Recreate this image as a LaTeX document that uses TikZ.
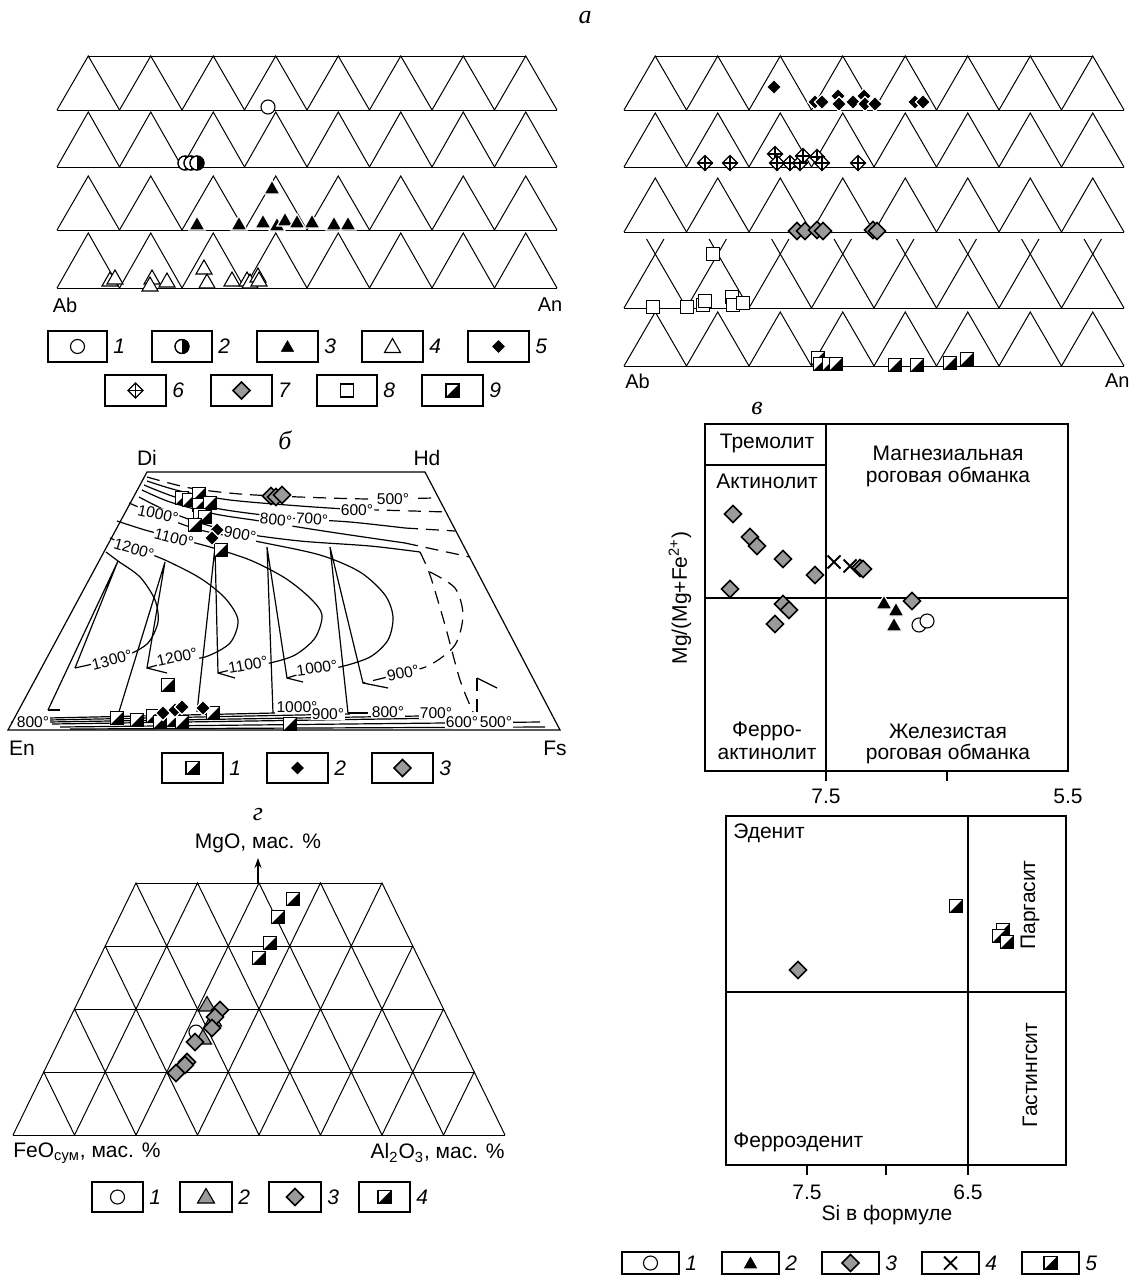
\documentclass[tikz,border=0pt]{standalone}
\usepackage{fontspec}
\setmainfont{Liberation Sans}
\newfontfamily\serfont{Liberation Serif}
\usetikzlibrary{arrows.meta}
\definecolor{sgrey}{HTML}{9A9A9A}
\tikzset{
  tl/.style={line width=0.5pt},
  fr/.style={line width=0.6pt},
  iso/.style={line width=0.6pt},
  isod/.style={line width=0.6pt, dash pattern=on 6.5pt off 4pt},
  sy/.style={line width=0.55pt},
  lbl/.style={font=\fontsize{10.5}{12.5}\selectfont, inner sep=0pt},
  slbl/.style={font=\fontsize{10}{12}\selectfont, inner sep=0pt},
  tlbl/.style={font=\fontsize{7.8}{9}\selectfont, inner sep=0.4pt, fill=white},
  plbl/.style={font=\fontsize{13}{15}\selectfont\serfont\itshape, inner sep=0pt},
  nlbl/.style={font=\fontsize{10.5}{12}\selectfont\itshape, inner sep=0pt, anchor=west},
  pics/ocirc/.style={code={\draw[sy,fill=white] (0,0) circle[radius=7];}},
  pics/hcirc/.style={code={\draw[sy,fill=white] (0,0) circle[radius=7];
     \begin{scope}\clip (0,-8) rectangle (8,8); \fill (0,0) circle[radius=7];\end{scope}
     \draw[sy] (0,0) circle[radius=7];}},
  pics/ftri/.style={code={\draw[white,line width=0.6pt,fill=black] (0,-8)--(8,6)--(-8,6)--cycle;}},
  pics/otri/.style={code={\draw[sy,fill=white] (0,-8)--(8,6)--(-8,6)--cycle;}},
  pics/gtri/.style={code={\draw[sy,fill=sgrey] (0,-8.5)--(8.5,6)--(-8.5,6)--cycle;}},
  pics/fdia/.style={code={\draw[white,line width=0.6pt,fill=black] (0,-7.5)--(7.5,0)--(0,7.5)--(-7.5,0)--cycle;}},
  pics/xdia/.style={code={\draw[sy,fill=white] (0,-7.5)--(7.5,0)--(0,7.5)--(-7.5,0)--cycle; \draw[sy] (0,-7.5)--(0,7.5) (-7.5,0)--(7.5,0);}},
  pics/gdia/.style={code={\draw[line width=0.8pt,fill=sgrey] (0,-8.5)--(8.5,0)--(0,8.5)--(-8.5,0)--cycle;}},
  pics/osq/.style={code={\draw[sy,fill=white] (-6.5,-6.5) rectangle (6.5,6.5);}},
  pics/hsq/.style={code={\draw[sy,fill=white] (-6.5,-6.5) rectangle (6.5,6.5); \fill (6.5,-6.5)--(6.5,6.5)--(-6.5,6.5)--cycle; \draw[sy] (-6.5,-6.5) rectangle (6.5,6.5);}},
  pics/xmk/.style={code={\draw[line width=0.9pt] (-6.5,-6.5)--(6.5,6.5) (-6.5,6.5)--(6.5,-6.5);}},
}
\newcommand\Pts[2]{\foreach \xx/\yy in {#2}{\pic at (\xx,\yy) {#1};}}
\newcommand\TriRow[3]{%
  \draw[tl] (#1,#2) -- ({#1+500},#2);
  \foreach \i in {0,...,7}{\draw[tl] ({#1+62.5*\i},#2) -- ({#1+62.5*\i+31.25},#3) -- ({#1+62.5*\i+62.5},#2);}}
\newcommand\LegB[6]{%
  \draw[fr] (#1,#2) rectangle ({#1+#3},{#2+#4});
  \pic at ({#1+#3/2},{#2+#4/2}) {#5};
  \node[nlbl] at ({#1+#3+6},{#2+#4/2}) {#6};}
\begin{document}
\begin{tikzpicture}[x=0.5pt,y=-0.5pt]
\useasboundingbox (0,0) rectangle (1132,1285);
\fill[white] (0,0) rectangle (1132,1285);

% ================= panel a =================
\node[plbl] (ta) at (585,18) {а};
% left
\draw[tl] (88,56) -- (525,56);
\TriRow{57}{110}{56}
\TriRow{57}{167}{112}
\TriRow{57}{230}{176}
\TriRow{57}{288}{233}
\node[slbl] (abl) at (65,305) {Ab};
\node[slbl] (anl) at (550,305) {An};
\Pts{ocirc}{268/107}
\Pts{hcirc}{185/163,191/163,197/163}
\Pts{ftri}{272/188,197/224,239/224,263/222,277/225,285/220,297/222,312/222,334/224,348/224}
\Pts{otri}{110/280,115/278,152/278,150/285,167/281,204/268,207/282,232/280,247/280,250/282,258/276,259/280}
% right
\draw[tl] (655,56) -- (1093,56);
\TriRow{624}{110}{56}
\TriRow{624}{167}{113}
\TriRow{624}{232}{178}
\draw[tl] (624,308) -- (1124,308);
\foreach \i in {0,...,7}{
  \draw[tl] ({624+62.5*\i},308) -- ({624+62.5*\i+39.95},239);
  \draw[tl] ({624+62.5*\i+62.5},308) -- ({624+62.5*\i+22.55},239);}
\TriRow{624}{366}{312}
\node[slbl,anchor=west] (abr) at (625,381) {Ab};
\node[slbl,anchor=east] (anr) at (1130,381) {An};
\Pts{fdia}{774/87,815/102,822/102,838/96,839/104,853/102,864/96,865/104,875/104,915/102,923/102}
\Pts{xdia}{705/163,730/163,775/154,777/163,790/163,800/163,803/156,817/157,822/163,858/163}
\Pts{gdia}{797/231,805/231,817/230,823/231,873/230,877/231}
\Pts{osq}{713/254,653/307,687/307,703/305,705/301,732/297,733/305,743/303}
\Pts{hsq}{818/358,820/364,829/364,836/364,895/365,917/365,950/363,967/359}
% legend a
\LegB{48}{331}{59}{31}{ocirc}{1}
\LegB{152}{331}{60}{31}{hcirc}{2}
\LegB{257}{331}{61}{31}{ftri}{3}
\LegB{362}{331}{61}{31}{otri}{4}
\LegB{468}{331}{61}{31}{fdia}{5}
\LegB{105}{375}{61}{31}{xdia}{6}
\LegB{211}{375}{61}{31}{gdia}{7}
\LegB{317}{375}{60}{31}{osq}{8}
\LegB{422}{375}{61}{31}{hsq}{9}

% ================= panel b =================
\node[plbl] (tb) at (285,440) {б};
\node[lbl] (di) at (147,458) {Di};
\node[lbl] (hd) at (427,458) {Hd};
\node[lbl] (en) at (22,748) {En};
\node[lbl] (fs) at (555,748) {Fs};
% upper isotherms
\draw[isod] plot[smooth] coordinates {(147,477) (190,488) (240,494) (300,497) (370,499) (433,498)};
\draw[iso] plot[smooth] coordinates {(147,481) (180,491) (230,500) (300,506) (345,509)};
\draw[isod] (345,509) -- (447,512);
\draw[iso] plot[smooth] coordinates {(144,485) (175,497) (220,509) (290,518) (350,522) (405,528)};
\draw[isod] (405,528) -- (455,531);
\draw[iso] plot[smooth] coordinates {(142,490) (170,502) (215,514) (260,521) (330,532) (405,543)};
\draw[isod] (405,543) -- (470,557);
\draw[iso] plot[smooth] coordinates {(139,497) (165,510) (200,523) (240,533) (300,541) (370,546) (420,552)};
\draw[isod] plot[smooth] coordinates {(420,552) (430,575) (445,625) (460,680) (473,712)};
% lenses
\draw[iso] plot[smooth] coordinates {(129,503) (158,515) (200,530) (260,542) (320,555) (360,572) (385,595) (393,617) (388,640) (370,657) (340,667) (315,670) (287,678)};
\draw[iso] plot[smooth] coordinates {(117,521) (145,530) (172,537) (210,547) (250,560) (285,578) (310,598) (322,615) (315,638) (295,655) (270,663) (248,666) (218,673)};
\draw[iso] plot[smooth] coordinates {(110,538) (134,548) (165,560) (200,578) (225,598) (238,620) (230,643) (205,657) (178,660) (147,668)};
\draw[iso] plot[smooth] coordinates {(106,552) (118,561) (140,577) (155,600) (158,622) (148,643) (128,655) (110,660) (75,668)};
\draw[isod] plot[smooth] coordinates {(430,572) (455,588) (463,615) (455,645) (430,665) (403,673) (363,683)};
\draw[isod] (477,678) -- (477,712);
% tie lines
\draw[iso] (48,710) -- (118,561) -- (75,668);
\draw[iso] (48,710) -- (60,710);
\draw[iso] (118,715) -- (165,562) -- (147,668) -- (167,673);
\draw[iso] (197,712) -- (215,547) -- (218,673) -- (235,678);
\draw[iso] (273,713) -- (267,547) -- (287,678) -- (303,682);
\draw[iso] (348,713) -- (330,547) -- (363,683) -- (388,688);
\draw[line width=1.2pt] (348,713) -- (368,713);
\draw[iso] (477,678) -- (497,688);
% bottom bundle
\draw[iso] (48,718) -- (275,713);
\draw[iso] (48,720) -- (350,714);
\draw[iso] (48,722) -- (420,716);
\draw[iso] (52,724) -- (450,718);
\draw[iso] (60,727) -- (540,722);
\draw[iso] (70,729) -- (545,727);
\fill (12,722) circle[radius=1];
% frame
\draw[fr] (147,472) -- (425,472) -- (560,730) -- (8,730) -- cycle;
% labels
\node[tlbl] at (393,499) {500°};
\node[tlbl] at (357,510) {600°};
\node[tlbl,rotate=-4] at (312,519) {700°};
\node[tlbl,rotate=-5] at (276,520) {800°};
\node[tlbl,rotate=-10] at (240,534) {900°};
\node[tlbl,rotate=-12] at (158,514) {1000°};
\node[tlbl,rotate=-14] at (174,538) {1100°};
\node[tlbl,rotate=-16] at (134,549) {1200°};
\node[tlbl,rotate=14] at (112,660) {1300°};
\node[tlbl,rotate=12] at (177,657) {1200°};
\node[tlbl,rotate=10] at (248,665) {1100°};
\node[tlbl,rotate=8] at (317,668) {1000°};
\node[tlbl,rotate=12] at (403,673) {900°};
\node[tlbl] at (33,722) {800°};
\node[tlbl] at (297,707) {1000°};
\node[tlbl] at (328,714) {900°};
\node[tlbl] at (388,712) {800°};
\node[tlbl] at (436,713) {700°};
\node[tlbl] at (462,722) {600°};
\node[tlbl] at (496,722) {500°};
% points
\Pts{hsq}{182/498,189/500,199/494,199/505,210/503,200/515,205/517,195/525,221/550,168/685,117/718,137/720,153/716,160/722,173/720,182/722,213/713,290/724}
\Pts{fdia}{217/530,212/538,163/713,175/710,182/707,203/708}
\Pts{gdia}{271/496,276/497,282/495}
% legend b
\LegB{162}{753}{61}{30}{hsq}{1}
\LegB{267}{753}{61}{30}{fdia}{2}
\LegB{372}{753}{61}{30}{gdia}{3}

% ================= panel g =================
\node[plbl] (tg) at (258,815) {г};
\node[lbl] (mgo) at (258,843) {MgO, мас. \%};
\draw[-{Stealth[length=5pt,width=3.5pt]},line width=0.6pt] (258,883) -- (258,858);
\foreach \k in {0,...,3}{
  \pgfmathsetmacro\yt{883+63*\k}
  \pgfmathsetmacro\yb{946+63*\k}
  \pgfmathsetmacro\lt{136-30.75*\k}
  \pgfmathsetmacro\nn{int(4+\k)}
  \draw[tl] (\lt,\yt) -- ({\lt+61.5*\nn},\yt);
  \foreach \j in {0,...,\nn}{
    \draw[tl] ({\lt-30.75+61.5*\j},\yb) -- ({\lt+61.5*\j},\yt) -- ({\lt+30.75+61.5*\j},\yb);}
}
\draw[tl] (13,1135) -- (505,1135);
\node[lbl,anchor=west] (feo) at (13,1153) {FeO\textsubscript{сум}, мас. \%};
\node[lbl,anchor=east] (alo) at (505,1153) {Al\textsubscript{2}O\textsubscript{3}, мас. \%};
\Pts{hsq}{293/899,278/917,270/943,259/958}
\Pts{gtri}{207/1005,213/1020}
\Pts{gdia}{220/1010,215/1017,212/1028}
\Pts{ocirc}{196/1032}
\Pts{gtri}{203/1038}
\Pts{gdia}{195/1042,187/1062,185/1065,176/1073}
% legend g
\LegB{92}{1182}{51}{30}{ocirc}{1}
\LegB{180}{1182}{52}{30}{gtri}{2}
\LegB{269}{1182}{52}{30}{gdia}{3}
\LegB{359}{1182}{51}{30}{hsq}{4}

% ================= panel v =================
\node[plbl] (tv) at (757,408) {в};
\draw[fr] (705,424) rectangle (1068,771);
\draw[fr] (826,424) -- (826,781);
\draw[fr] (947,771) -- (947,781);
\draw[fr] (705,598) -- (1068,598);
\draw[fr] (705,465) -- (826,465);
\node[lbl] at (767,443) {Тремолит};
\node[lbl] at (767,481) {Актинолит};
\node[lbl] at (948,453) {Магнезиальная};
\node[lbl] at (948,477) {роговая обманка};
\node[lbl] at (767,731) {Ферро-};
\node[lbl] at (767,754) {актинолит};
\node[lbl] at (948,731) {Железистая};
\node[lbl] at (948,754) {роговая обманка};
\node[lbl] at (826,796) {7.5};
\node[lbl] at (1068,796) {5.5};
\node[lbl,rotate=90] (ylab) at (680,598) {Mg/(Mg+Fe\textsuperscript{2+})};
\Pts{gdia}{733/514,750/537,757/546,783/559,815/575,730/589,783/604,789/610,775/624,912/601,860/568,863/569}
\Pts{xmk}{834/562,850/566}
\Pts{ftri}{884/603,896/610,894/625}
\Pts{ocirc}{919/625,927/621}
% lower right
\draw[fr] (726,816) rectangle (1066,1165);
\draw[fr] (968,816) -- (968,1175);
\draw[fr] (726,992) -- (1066,992);
\draw[fr] (807,1165) -- (807,1175);
\draw[fr] (886,1165) -- (886,1175);
\node[lbl,anchor=west] at (733,833) {Эденит};
\node[lbl,anchor=west] at (733,1142) {Ферроэденит};
\node[lbl,rotate=90] at (1030,905) {Паргасит};
\node[lbl,rotate=90] at (1030,1075) {Гастингсит};
\node[lbl] at (807,1192) {7.5};
\node[lbl] at (968,1192) {6.5};
\node[lbl] at (887,1215) {Si в формуле};
\Pts{hsq}{956/906}
\Pts{gdia}{798/970}
\Pts{hsq}{1003/930,999/936,1007/942}
% legend v
\LegB{622}{1252}{57}{22}{ocirc}{1}
\LegB{722}{1252}{57}{22}{ftri}{2}
\LegB{822}{1252}{57}{22}{gdia}{3}
\LegB{922}{1252}{57}{22}{xmk}{4}
\LegB{1022}{1252}{57}{22}{hsq}{5}
\end{tikzpicture}
\end{document}
